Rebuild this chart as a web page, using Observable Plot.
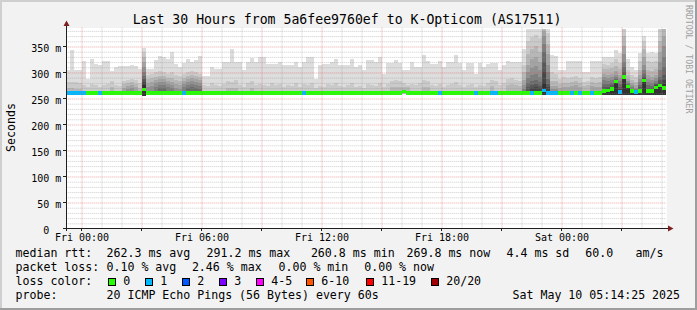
<!DOCTYPE html>
<html><head><meta charset="utf-8">
<script src="https://cdn.jsdelivr.net/npm/d3@7"></script>
<script src="https://cdn.jsdelivr.net/npm/@observablehq/plot@0.6"></script>
<style>html,body{margin:0;padding:0;background:#f2f2f2;overflow:hidden}svg{display:block}</style>
</head><body><div id="chart"></div>
<script>
const FONT = "DejaVu Sans Mono";
const _ = null;
const endTime = new Date(Date.UTC(2025, 4, 10, 5, 14, 25));
const startTime = new Date(+endTime - 30 * 3600e3);
const firstBin = new Date(Date.UTC(2025, 4, 8, 23, 12, 0));
const binMinutes = 12;

const titleText = "Last 30 Hours from 5a6fee9760ef to K-Opticom (AS17511)";
const yTicks = [50, 100, 150, 200, 250, 300, 350];
const yZero = [0];
const xLabels = ["Fri 00:00", "Fri 06:00", "Fri 12:00", "Fri 18:00", "Sat 00:00"];
const xLabelTimes = ["2025-05-09T00:00:00Z", "2025-05-09T06:00:00Z", "2025-05-09T12:00:00Z", "2025-05-09T18:00:00Z", "2025-05-10T00:00:00Z"];

// median rtt per 12-minute bin (ms)
const median = [
261,261,261,261,261,261,261,261,261,261,
261,261,261,261,261,261,261,261,261,267,
261,261,261,261,261,261,261,261,261,261,
261,261,261,261,261,261,261,261,261,261,
261,261,261,261,261,261,261,261,261,261,
261,261,261,261,261,261,261,261,261,261,
261,261,261,261,261,261,261,261,261,261,
261,261,261,261,261,261,261,261,261,261,
261,261,261,261,263,261,261,261,261,261,
261,261,261,261,261,261,261,261,261,261,
261,261,261,261,261,261,261,261,261,261,
261,261,261,261,261,261,261,261,261,265,
261,261,261,261,261,261,261,261,261,261,
261,261,261,261,264,265,268,283,262,291,
273,264,262,264,285,264,264,271,275,270];

// packet loss per bin (%)
const lossPct = [
1.2,2.46,1.0,0.8,1.5,0,0,0,0.5,0,
0,0,0,0,0,0,0,0,0,0,
0,0,0,0,0,0,0,0,0,0.5,
0,0,0,0,0,0,0,0,0,0,
0,0,0,0,0,0,0,0,0,0,
0,0,0,0,0,0,0,0,0,0.5,
0,0,0,0,0,0,0,0,0,0,
0,0,0,0,0,0,0,0,0,0,
0,0,0,0,0,0,0,0,0,0,
0,0,0,0.5,0,0,0,0,0,0,
0,0,0.6,0,0,0,0.5,0.8,0,0,
0,0,0,0,0,0,0.5,0,0,1.0,
0.6,0.5,0.5,0,0,0,0.4,0,0.5,0,
0,0.5,0,0,0,0,0,0,0.7,0,
0,0,0.5,0,0,0,0,0,0,0];

// lowest ping per bin (ms)
const smokeLow = [
259,259,259,259,259,259,259,259,259,259,
259,259,259,259,259,259,259,259,259,255,
259,259,259,259,259,259,259,259,259,259,
259,259,259,259,259,259,259,259,259,259,
259,259,259,259,259,259,259,259,259,259,
259,259,259,259,259,259,259,259,259,259,
259,259,259,259,259,259,259,259,259,259,
259,259,259,259,259,259,259,259,259,259,
259,259,259,259,259,259,259,259,259,259,
259,259,259,259,259,259,259,259,259,259,
259,259,259,259,259,259,259,259,259,259,
259,259,259,259,258,257,257,257,257,257,
257,259,259,259,259,259,259,259,259,259,
259,259,259,259,256,256,256,256,256,256,
256,256,256,256,256,256,256,256,256,256];

// smoke band tops (highest ping pair first)
const smoke1 = [
304,344,304,304,323,288,325,317,314,322,
322,303,310,313,313,313,315,312,307,347,
307,307,324,331,329,326,340,317,311,318,
326,320,324,331,294,294,310,307,307,320,
320,345,320,320,304,320,328,320,329,329,
317,317,317,320,314,314,314,320,310,320,
329,329,288,314,317,317,320,325,314,314,
314,326,310,314,304,324,324,320,329,297,
318,318,324,318,304,304,320,310,310,333,
323,317,317,323,310,320,320,333,318,304,
318,318,297,318,310,317,318,318,304,314,
323,320,320,320,346,384,384,384,384,384,
384,333,331,305,305,323,323,323,323,301,
301,323,323,323,329,329,329,344,337,384,
325,310,304,338,370,338,339,337,384,384];
const smoke2 = [
282,281,281,280,276,272,278,275,272,276,
278,283,276,274,284,286,288,285,280,340,
296,298,300,302,300,298,300,296,294,298,
300,302,300,298,276,274,280,276,274,278,
284,282,286,276,272,280,284,276,278,276,
274,280,276,278,272,276,274,280,272,278,
276,280,270,274,272,278,276,280,274,272,
276,280,272,274,270,278,276,274,280,272,
278,284,286,284,280,276,278,276,280,286,
284,276,274,278,272,276,278,282,276,272,
276,278,272,276,274,280,286,284,276,280,
288,290,286,284,315,360,368,372,366,384,
376,300,298,288,292,290,292,294,290,282,
284,292,290,292,317,315,318,325,318,384,
305,295,292,322,360,322,320,322,384,384];
const smoke3 = [
270,270,268,268,_,_,_,_,_,_,
_,272,_,_,278,280,282,278,270,330,
288,290,292,294,294,290,290,286,284,290,
294,296,294,292,_,_,_,_,_,_,
270,270,270,_,_,_,270,_,_,_,
_,_,_,_,_,_,_,_,_,_,
_,_,_,_,_,_,_,_,_,_,
_,_,_,_,_,_,_,_,_,_,
_,272,272,272,272,272,_,_,_,272,
272,_,_,_,_,_,_,_,_,_,
_,_,_,_,_,_,274,_,_,_,
275,278,276,274,300,335,345,350,340,384,
355,284,284,278,280,280,282,284,280,274,
276,282,280,282,307,306,308,312,306,370,
296,286,282,305,345,305,302,306,360,384];
const smoke4 = [
_,_,_,_,_,_,_,_,_,_,
_,_,_,_,270,274,276,272,_,320,
280,282,286,288,288,284,282,278,276,284,
288,290,288,286,_,_,_,_,_,_,
_,_,_,_,_,_,_,_,_,_,
_,_,_,_,_,_,_,_,_,_,
_,_,_,_,_,_,_,_,_,_,
_,_,_,_,_,_,_,_,_,_,
_,_,_,_,_,_,_,_,_,_,
_,_,_,_,_,_,_,_,_,_,
_,_,_,_,_,_,_,_,_,_,
_,_,_,_,285,315,325,330,320,380,
335,274,274,270,272,272,274,276,272,_,
_,274,272,272,297,296,298,302,296,350,
288,280,275,295,330,295,292,296,340,370];
const smoke5 = [
_,_,_,_,_,_,_,_,_,_,
_,_,_,_,_,268,270,_,_,310,
272,274,280,282,282,278,276,270,268,278,
282,284,282,280,_,_,_,_,_,_,
_,_,_,_,_,_,_,_,_,_,
_,_,_,_,_,_,_,_,_,_,
_,_,_,_,_,_,_,_,_,_,
_,_,_,_,_,_,_,_,_,_,
_,_,_,_,_,_,_,_,_,_,
_,_,_,_,_,_,_,_,_,_,
_,_,_,_,_,_,_,_,_,_,
_,_,_,_,275,300,308,312,305,370,
315,268,268,_,_,_,_,_,_,_,
_,_,_,_,291,290,292,296,290,335,
283,276,271,288,315,288,285,290,320,350];
const smoke6 = [
_,_,_,_,_,_,_,_,_,_,
_,_,_,_,_,_,_,_,_,300,
_,_,272,276,276,272,270,_,_,272,
276,278,276,274,_,_,_,_,_,_,
_,_,_,_,_,_,_,_,_,_,
_,_,_,_,_,_,_,_,_,_,
_,_,_,_,_,_,_,_,_,_,
_,_,_,_,_,_,_,_,_,_,
_,_,_,_,_,_,_,_,_,_,
_,_,_,_,_,_,_,_,_,_,
_,_,_,_,_,_,_,_,_,_,
_,_,_,_,268,290,295,298,292,355,
300,_,_,_,_,_,_,_,_,_,
_,_,_,_,285,284,286,291,284,320,
279,272,268,282,305,282,279,284,305,330];
const smoke7 = [
_,_,_,_,_,_,_,_,_,_,
_,_,_,_,_,_,_,_,_,294,
_,_,_,270,270,_,_,_,_,_,
270,272,270,268,_,_,_,_,_,_,
_,_,_,_,_,_,_,_,_,_,
_,_,_,_,_,_,_,_,_,_,
_,_,_,_,_,_,_,_,_,_,
_,_,_,_,_,_,_,_,_,_,
_,_,_,_,_,_,_,_,_,_,
_,_,_,_,_,_,_,_,_,_,
_,_,_,_,_,_,_,_,_,_,
_,_,_,_,_,280,284,286,282,340,
288,_,_,_,_,_,_,_,_,_,
_,_,_,_,278,278,280,288,278,310,
277,269,266,276,297,276,274,280,292,310];
const smoke8 = [
_,_,_,_,_,_,_,_,_,_,
_,_,_,_,_,_,_,_,_,288,
_,_,_,_,_,_,_,_,_,_,
_,_,_,_,_,_,_,_,_,_,
_,_,_,_,_,_,_,_,_,_,
_,_,_,_,_,_,_,_,_,_,
_,_,_,_,_,_,_,_,_,_,
_,_,_,_,_,_,_,_,_,_,
_,_,_,_,_,_,_,_,_,_,
_,_,_,_,_,_,_,_,_,_,
_,_,_,_,_,_,_,_,_,_,
_,_,_,_,_,272,276,278,274,320,
278,_,_,_,_,_,_,_,_,_,
_,_,_,_,273,273,276,286,272,300,
276,267,265,272,292,270,270,277,285,295];
const smoke9 = [
_,_,_,_,_,_,_,_,_,_,
_,_,_,_,_,_,_,_,_,282,
_,_,_,_,_,_,_,_,_,_,
_,_,_,_,_,_,_,_,_,_,
_,_,_,_,_,_,_,_,_,_,
_,_,_,_,_,_,_,_,_,_,
_,_,_,_,_,_,_,_,_,_,
_,_,_,_,_,_,_,_,_,_,
_,_,_,_,_,_,_,_,_,_,
_,_,_,_,_,_,_,_,_,_,
_,_,_,_,_,_,_,_,_,_,
_,_,_,_,_,_,270,272,270,300,
272,_,_,_,_,_,_,_,_,_,
_,_,_,_,269,270,272,285,268,295,
275,267,265,269,289,268,268,275,280,285];
const smoke10 = [
_,_,_,_,_,_,_,_,_,_,
_,_,_,_,_,_,_,_,_,276,
_,_,_,_,_,_,_,_,_,_,
_,_,_,_,_,_,_,_,_,_,
_,_,_,_,_,_,_,_,_,_,
_,_,_,_,_,_,_,_,_,_,
_,_,_,_,_,_,_,_,_,_,
_,_,_,_,_,_,_,_,_,_,
_,_,_,_,_,_,_,_,_,_,
_,_,_,_,_,_,_,_,_,_,
_,_,_,_,_,_,_,_,_,_,
_,_,_,_,_,_,_,_,_,280,
_,_,_,_,_,_,_,_,_,_,
_,_,_,_,267,268,271,284,265,293,
274,266,265,267,287,266,266,274,278,278];

const smokeColors = ["#dddddd","#cacaca","#b7b7b7","#a4a4a4","#919191","#7e7e7e","#6b6b6b","#585858","#454545","#323232"];
const lossLabels = ["0","1","2","3","4-5","6-10","11-19","20/20"];
const lossColors = ["#26ff00","#00b8ff","#0059ff","#7e00ff","#ff00ff","#ff5500","#ff0000","#a10000"];
const lossLimits = [0, 1, 2, 3, 5, 10, 19, 20];

function lossColor(pct) {
  const lost = pct / 100 * 20;
  for (let k = 0; k < lossLimits.length; k++) if (lost <= lossLimits[k]) return lossColors[k];
  return lossColors[lossColors.length - 1];
}

const binMs = binMinutes * 60 * 1000;
const rows = median.map((m, i) => ({
  i, m, loss: lossPct[i], lo: smokeLow[i],
  t0: new Date(+firstBin + i * binMs), t1: new Date(+firstBin + (i + 1) * binMs)
}));
const bands = [smoke1, smoke2, smoke3, smoke4, smoke5, smoke6, smoke7, smoke8, smoke9, smoke10];

const hours = d3.utcHour.range(startTime, endTime);
const majorX = hours.filter(d => d.getUTCHours() % 3 === 0);
const minorX = hours.filter(d => d.getUTCHours() % 3 !== 0);
const majorY = d3.range(50, 386, 50);
const minorY = d3.range(10, 386, 10).filter(v => v % 50 !== 0);

const bandMarks = bands.map((b, k) => Plot.rect(
  rows.filter(r => b[r.i] != null).map(r => ({...r, top: b[r.i]})),
  {x1: "t0", x2: "t1", y1: "lo", y2: "top", fill: smokeColors[k], shapeRendering: "crispEdges", clip: true}
));

const plot = Plot.plot({
  width: 697, height: 310,
  marginLeft: 66.306, marginRight: 30.694, marginTop: 27.5, marginBottom: 81.5,
  x: {type: "utc", domain: [startTime, endTime], axis: null},
  y: {domain: [0, 386.5], axis: null},
  color: {type: "identity"},
  style: {background: "#f2f2f2", fontFamily: FONT, overflow: "visible"},
  marks: [
    Plot.frame({fill: "white", stroke: "none"}),
    ...bandMarks,
    Plot.rect(rows, {x1: "t0", x2: "t1", y1: d => d.m - 3.4, y2: d => d.m + 3.4,
      fill: d => lossColor(d.loss), shapeRendering: "crispEdges", clip: true}),
    Plot.ruleY(minorY, {stroke: "#8f8f8f", strokeOpacity: 0.45, strokeDasharray: "1,1"}),
    Plot.ruleX(minorX, {stroke: "#8f8f8f", strokeOpacity: 0.45, strokeDasharray: "1,1"}),
    Plot.ruleY(majorY, {stroke: "#de4f4f", strokeOpacity: 0.5, strokeDasharray: "1,1"}),
    Plot.ruleX(majorX, {stroke: "#de4f4f", strokeOpacity: 0.5, strokeDasharray: "1,1"}),
    Plot.text(yTicks, {y: d => d, frameAnchor: "left", textAnchor: "end", lineAnchor: "middle",
      text: d => d + " m", dx: -5.5, dy: 1.5, fontSize: 10, fontFamily: FONT, fill: "black"}),
    Plot.text(yZero, {y: d => d, frameAnchor: "left", textAnchor: "end", lineAnchor: "middle",
      text: d => String(d), dx: -17.5, dy: 1.5, fontSize: 10, fontFamily: FONT, fill: "black"}),
    Plot.text(xLabelTimes, {x: d => new Date(d), frameAnchor: "bottom", lineAnchor: "middle",
      text: (d, i) => xLabels[i], dy: 8.3, fontSize: 10, fontFamily: FONT, fill: "black"})
  ]
});
document.getElementById("chart").appendChild(plot);

const svg = d3.select(plot);
const xs = plot.scale("x"), ys = plot.scale("y");
const deco = svg.append("g");
// 3D border
deco.append("rect").attr("x", 0).attr("y", 0).attr("width", 697).attr("height", 2).attr("fill", "#cfcfcf");
deco.append("rect").attr("x", 0).attr("y", 0).attr("width", 2).attr("height", 310).attr("fill", "#cfcfcf");
deco.append("rect").attr("x", 0).attr("y", 308).attr("width", 697).attr("height", 2).attr("fill", "#9e9e9e");
deco.append("rect").attr("x", 695).attr("y", 0).attr("width", 2).attr("height", 310).attr("fill", "#9e9e9e");
// axes
deco.append("line").attr("x1", 66.5).attr("x2", 66.5).attr("y1", 231).attr("y2", 24).attr("stroke", "#1f1f1f");
deco.append("line").attr("x1", 63).attr("x2", 668).attr("y1", 228.5).attr("y2", 228.5).attr("stroke", "#1f1f1f");
deco.append("path").attr("d", "M63.5,26L69.5,26L66.5,20.5Z").attr("fill", "#801f1f");
deco.append("path").attr("d", "M668,225.5L668,231.5L673.5,228.5Z").attr("fill", "#801f1f");
majorY.forEach(v => {
  const y = Math.round(ys.apply(v) - 0.5) + 0.5;
  deco.append("line").attr("x1", 63).attr("x2", 66.5).attr("y1", y).attr("y2", y).attr("stroke", "#1f1f1f");
});
majorX.forEach(t => {
  const x = xs.apply(t);
  deco.append("line").attr("x1", x).attr("x2", x).attr("y1", 228.5).attr("y2", 231).attr("stroke", "#1f1f1f");
});

const txt = svg.append("g").attr("font-family", FONT).attr("fill", "#000").attr("text-anchor", "start");
function put(s, x, y, size, anchor) {
  return txt.append("text").attr("x", x).attr("y", y).attr("font-size", size)
    .attr("text-anchor", anchor || "start").style("white-space", "pre").text(s);
}
put(titleText, 347, 24, 13.2, "middle");
txt.append("text").attr("transform", "translate(14.5,127.5) rotate(-90)").attr("font-size", 11.6)
  .attr("text-anchor", "middle").text("Seconds");
txt.append("text").attr("transform", "translate(685.5,5) rotate(90)").attr("font-size", 8.2)
  .attr("text-anchor", "start").attr("fill", "#a0a0a0").text("RRDTOOL / TOBI OETIKER");

const LS = 11.6;
const legendStats = [
  ["median rtt:", 15.5], ["262.3 ms avg", 106.5], ["291.2 ms max", 206.5], ["260.8 ms min", 310.9],
  ["269.8 ms now", 406.5], ["4.4 ms sd", 506.5], ["60.0", 585.2], ["am/s", 635.5]
];
const legendLoss = [
  ["packet loss:", 15.5], ["0.10 % avg", 106.5], ["2.46 % max", 191.9], ["0.00 % min", 278.5], ["0.00 % now", 364.2]
];
legendStats.forEach(([s, x]) => put(s, x, 257.3, LS));
legendLoss.forEach(([s, x]) => put(s, x, 271.3, LS));
put("loss color:", 15.5, 285.3, LS);
const boxX = [108, 145, 182, 219, 256, 306, 366, 431];
lossLabels.forEach((lab, k) => {
  txt.append("rect").attr("x", boxX[k] + 0.5).attr("y", 278.5).attr("width", 7).attr("height", 7)
    .attr("fill", lossColors[k]).attr("stroke", "#000");
  put(lab, boxX[k] + 15.2, 285.3, LS);
});
put("probe:", 15.5, 299.3, LS);
put("20 ICMP Echo Pings (56 Bytes) every 60s", 106.5, 299.3, LS);
put("Sat May 10 05:14:25 2025", 512.5, 299.3, LS);
</script>
</body></html>
